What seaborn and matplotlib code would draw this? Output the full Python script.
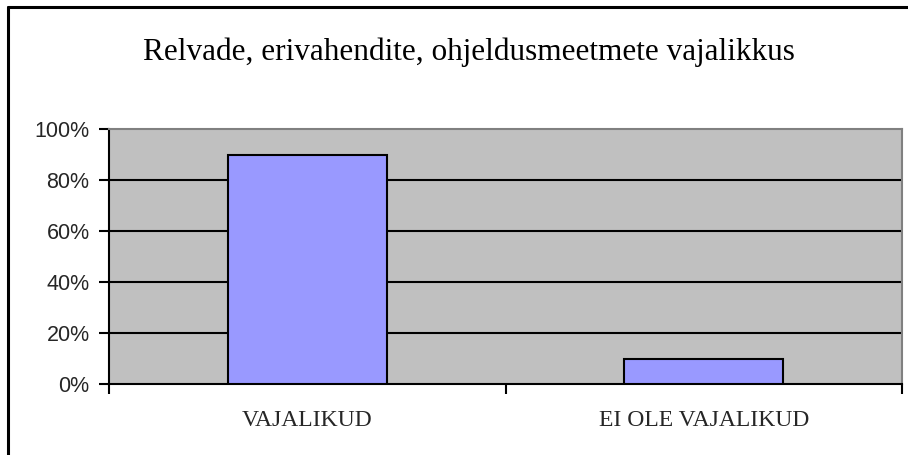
import matplotlib
matplotlib.use('Agg')
import matplotlib.pyplot as plt
import matplotlib.ticker as mticker
import seaborn as sns
import pandas as pd

# chart data
categories = ['VAJALIKUD', 'EI OLE VAJALIKUD']
shares = [0.90, 0.10]
y_ticks = [0, 0.2, 0.4, 0.6, 0.8, 1.0]
title = 'Relvade, erivahendite, ohjeldusmeetmete vajalikkus'

df = pd.DataFrame({'category': categories, 'share': shares})

sns.set_theme(style='white')
plt.rcParams['font.family'] = ['Liberation Sans', 'DejaVu Sans']

fig = plt.figure(figsize=(9.08, 4.55), dpi=100)
fig.patch.set_facecolor('white')

# outer chart border (only top/left fall inside the picture)
fig.add_artist(plt.Line2D([8/908, 8/908], [0, 1 - 7/455], color='black', lw=2.2, transform=fig.transFigure))
fig.add_artist(plt.Line2D([8/908, 1], [1 - 7/455, 1 - 7/455], color='black', lw=2.2, transform=fig.transFigure))

ax = fig.add_axes([109/908, 1 - 384/455, 793/908, 255/455])
ax.set_facecolor('#C0C0C0')

sns.barplot(data=df, x='category', y='share', color='#9999FF', width=0.40,
            edgecolor='black', linewidth=1.5, saturation=1, ax=ax, zorder=3)

ax.set_ylim(0, 1.0)
ax.set_xlim(-0.5, 1.5)
ax.set_yticks(y_ticks)
ax.yaxis.set_major_formatter(mticker.PercentFormatter(1.0, decimals=0))
for y in y_ticks[1:-1]:
    ax.axhline(y, color='black', lw=1.5, zorder=1)

for side in ['left', 'bottom']:
    ax.spines[side].set_color('black')
    ax.spines[side].set_linewidth(1.5)
for side in ['top', 'right']:
    ax.spines[side].set_color('#808080')
    ax.spines[side].set_linewidth(1.5)

ax.tick_params(axis='y', direction='out', length=7, width=1.5, color='black',
               labelsize=15.5, pad=7, left=True)
ax.set_xticks([-0.5, 0.5, 1.5], minor=True)
ax.set_xticks([0, 1])
ax.set_xticklabels(categories, family=['Liberation Serif'], fontsize=17)
ax.tick_params(axis='x', which='major', length=0, pad=19)
ax.tick_params(axis='x', which='minor', direction='out', length=7, width=1.5,
               color='black', bottom=True)
ax.set_xlabel('')
ax.set_ylabel('')

fig.text(469/908, 1 - 52/455, title, ha='center', va='center',
         family=['Liberation Serif'], fontsize=22.5, color='black')

fig.savefig('out.png', dpi=100, facecolor='white')
